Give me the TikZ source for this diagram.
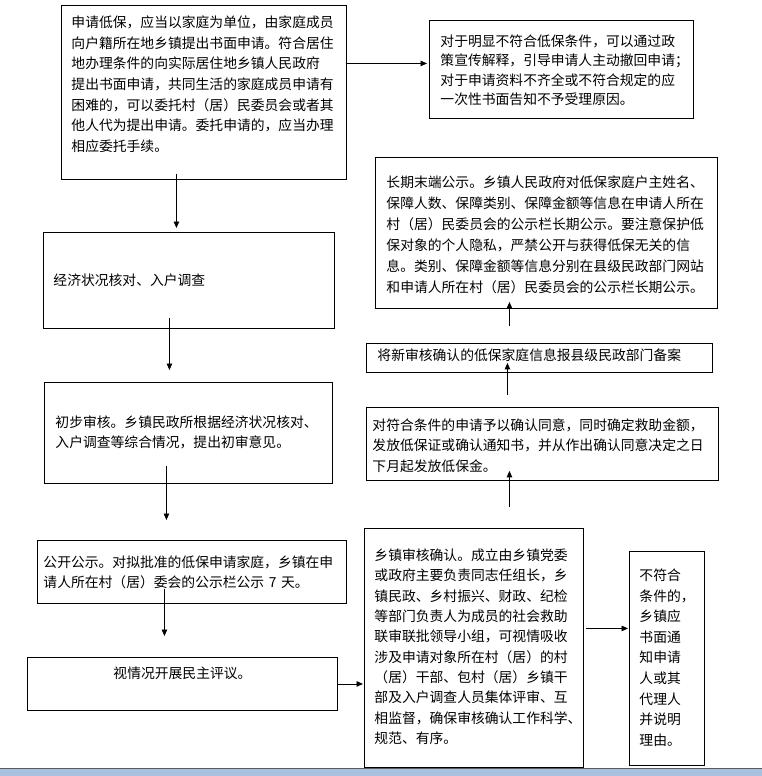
\documentclass[tikz,border=0pt]{standalone}
\usepackage{fontspec}
\newfontfamily\cjk{Noto Sans CJK SC}
\usetikzlibrary{arrows.meta,calc}
\definecolor{stripBlue}{RGB}{169,193,222}
\definecolor{stripEdge}{RGB}{90,90,90}

\begin{document}
\begin{tikzpicture}[x=1pt, y=-1pt,
  box/.style={draw, line width=0.9pt, anchor=north west, inner ysep=0pt, inner xsep=10pt,
    align=left, font=\cjk\fontsize{13.8pt}{#1}\selectfont},
  box/.default=20.5pt,
  arr/.style={-{Triangle[width=5.5pt,length=6.5pt]}, line width=0.9pt}]
  \useasboundingbox (0,0) rectangle (762,776);
  % Left column
  \node[box=20.7pt, text width=265pt, text height=22pt, text depth=152pt] (apply) at (61,5)
    {申请低保，应当以家庭为单位，由家庭成员\\向户籍所在地乡镇提出书面申请。符合居住\\地办理条件的向实际居住地乡镇人民政府\\提出书面申请，共同生活的家庭成员申请有\\困难的，可以委托村（居）民委员会或者其\\他人代为提出申请。委托申请的，应当办理\\相应委托手续。};
  \node[box, text width=271pt, text height=53pt, text depth=43pt] (econ) at (43,232)
    {经济状况核对、入户调查};
  \node[box=20pt, inner xsep=11pt, text width=266pt, text height=45pt, text depth=56pt] (prelim) at (44,382)
    {初步审核。乡镇民政所根据经济状况核对、\\入户调查等综合情况，提出初审意见。};
  \node[box=20pt, inner xsep=6pt, text width=297pt, text height=27pt, text depth=36pt] (public) at (37,540)
    {公开公示。对拟批准的低保申请家庭，乡镇在申\\请人所在村（居）委会的公示栏公示 7 天。};
  \node[box, inner xsep=0pt, align=center, text width=310pt, text height=21pt, text depth=32pt] (review) at (27,657)
    {视情况开展民主评议。};
  % Right column
  \node[box=19.5pt, inner xsep=11pt, text width=242pt, text height=26pt, text depth=72pt] (reject) at (429,20)
    {对于明显不符合低保条件，可以通过政\\策宣传解释，引导申请人主动撤回申请；\\对于申请资料不齐全或不符合规定的应\\一次性书面告知不予受理原因。};
  \node[box=21pt, inner xsep=11pt, text width=320pt, text height=30pt, text depth=121pt] (longterm) at (375,157)
    {长期末端公示。乡镇人民政府对低保家庭户主姓名、\\保障人数、保障类别、保障金额等信息在申请人所在\\村（居）民委员会的公示栏长期公示。要注意保护低\\保对象的个人隐私，严禁公开与获得低保无关的信\\息。类别、保障金额等信息分别在县级民政部门网站\\和申请人所在村（居）民委员会的公示栏长期公示。};
  \node[box, inner xsep=11pt, text width=324pt, text height=17pt, text depth=12pt] (filing) at (366,343)
    {将新审核确认的低保家庭信息报县级民政部门备案};
  \node[box=20.5pt, inner xsep=6pt, text width=340pt, text height=23pt, text depth=50pt] (confirm) at (366,407)
    {对符合条件的申请予以确认同意，同时确定救助金额，\\发放低保证或确认通知书，并从作出确认同意决定之日\\下月起发放低保金。};
  \node[box=20.33pt, text width=199pt, text height=32pt, text depth=207pt] (town) at (364,528)
    {乡镇审核确认。成立由乡镇党委\\或政府主要负责同志任组长，乡\\镇民政、乡村振兴、财政、纪检\\等部门负责人为成员的社会救助\\联审联批领导小组，可视情吸收\\涉及申请对象所在村（居）的村\\（居）干部、包村（居）乡镇干\\部及入户调查人员集体评审、互\\相监督，确保审核确认工作科学、\\规范、有序。};
  \node[box=20.6pt, text width=55pt, text height=29pt, text depth=185pt] (notq) at (629,551)
    {不符合\\条件的，\\乡镇应\\书面通\\知申请\\人或其\\代理人\\并说明\\理由。};
  % Arrows
  \draw[arr, shorten <=-6pt, shorten >=4pt] ([xshift=-27.5pt]apply.south) -- ([xshift=-27.5pt]apply.south |- econ.north);
  \draw[arr, shorten <=-11pt, shorten >=12pt] ([xshift=-19.5pt]econ.south) -- ([xshift=-19.5pt]econ.south |- prelim.north);
  \draw[arr, shorten <=-18pt, shorten >=20pt] ([xshift=-22pt]prelim.south) -- ([xshift=-22pt]prelim.south |- public.north);
  \draw[arr, shorten <=-15pt, shorten >=21pt] ([xshift=-27.5pt]public.south) -- ([xshift=-27.5pt]public.south |- review.north);
  \draw[arr, shorten >=1pt] (review.east) -- (review.east -| town.west);
  \draw[arr, shorten <=2pt, shorten >=1pt] ([yshift=19.5pt]town.east) -- ([yshift=19.5pt]town.east -| notq.west);
  \draw[arr, shorten <=21pt, shorten >=-10pt] ([xshift=35.5pt]town.north) -- ([xshift=35.5pt]town.north |- confirm.south);
  \draw[arr, shorten <=12pt, shorten >=-10pt] ([xshift=-35pt]confirm.north) -- ([xshift=-35pt]confirm.north |- filing.south);
  \draw[arr, shorten <=17pt, shorten >=-7pt] ([xshift=-30pt]filing.north) -- ([xshift=-30pt]filing.north |- longterm.south);
  \draw[arr, shorten >=2pt] ([yshift=29pt]apply.east) -- ([yshift=29pt]apply.east -| reject.west);
  % Bottom strip
  \fill[stripBlue] (0,769) rectangle (762,776);
  \draw[stripEdge, line width=1pt] (0,768.5) -- (762,768.5);
\end{tikzpicture}
\end{document}
